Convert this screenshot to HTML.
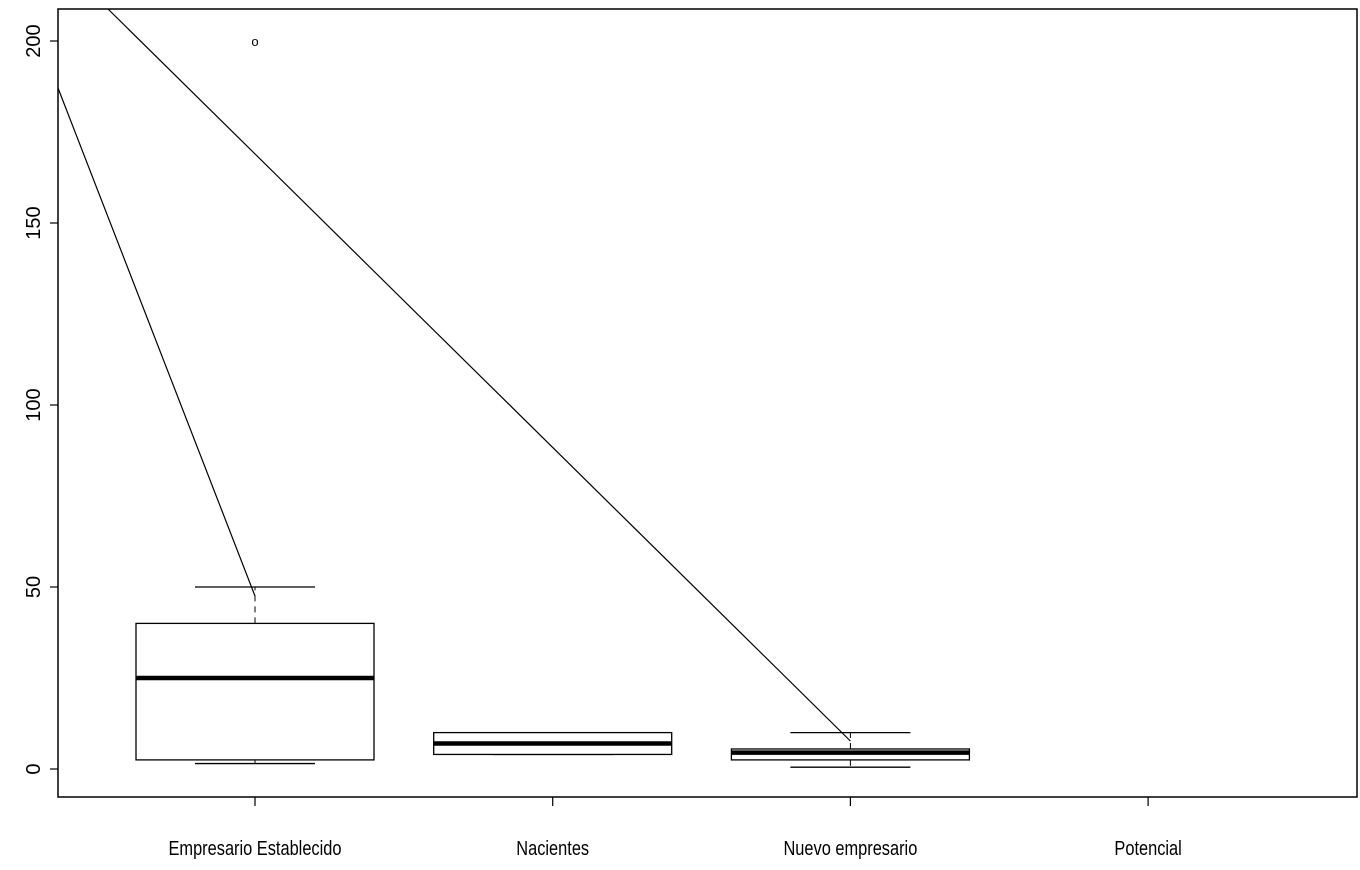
<!DOCTYPE html>
<html><head><meta charset="utf-8"><style>html,body{margin:0;padding:0;background:#fff}svg{display:block}</style></head>
<body>
<svg id="chart" width="1360" height="870" xmlns="http://www.w3.org/2000/svg" font-family="Liberation Sans, sans-serif"></svg>
<script>
const categories = ["Empresario Establecido","Nacientes","Nuevo empresario","Potencial"];
const whiskerLow = [1.5, 4, 0.5, null];
const q1 = [2.5, 4, 2.5, null];
const median = [25, 7, 4.5, null];
const q3 = [40, 10, 5.5, null];
const whiskerHigh = [50, 10, 10, null];
const outlierValues = [200];
const outlierGroups = [0];
const yTicks = [0, 50, 100, 150, 200];

const svg = document.getElementById('chart');
const NS = 'http://www.w3.org/2000/svg';
const L = 58, R = 1357, T = 9, B = 797;
const y = v => 769 - v * 3.64;
const x = i => 255 + i * 297.7;
function mk(tag, attrs) { const e = document.createElementNS(NS, tag); for (const k in attrs) e.setAttribute(k, attrs[k]); svg.appendChild(e); return e; }

const frame = mk('rect', {x: L, y: T, width: R - L, height: B - T, fill: 'none', stroke: '#000', 'stroke-width': 1.5});



yTicks.forEach(v => {
  const t = mk('line', {x1: 50, x2: L, y1: y(v), y2: y(v), stroke: '#000', 'stroke-width': 1.2});
  
  
  const lb = mk('text', {x: 0, y: 0, 'font-size': 20, 'text-anchor': 'middle', transform: `translate(40,${y(v)}) rotate(-90)`});
  lb.textContent = v;
  
  
});

categories.forEach((c, i) => {
  const cx = x(i);
  const t = mk('line', {x1: cx, x2: cx, y1: B, y2: 806, stroke: '#000', 'stroke-width': 1.2});
  
  
  const lb = mk('text', {x: 0, y: 0, 'font-size': 20, 'text-anchor': 'middle', transform: `translate(${cx},855) scale(0.82,1)`});
  lb.textContent = c;
  
  
  if (median[i] === null) return;
  const g = mk('g', {});
  
  
  const add = (tag, a) => { const e = document.createElementNS(NS, tag); for (const k in a) e.setAttribute(k, a[k]); g.appendChild(e); return e; };
  add('line', {x1: cx, x2: cx, y1: y(q3[i]), y2: y(whiskerHigh[i]), stroke: '#000', 'stroke-dasharray': '6,5'});
  add('line', {x1: cx, x2: cx, y1: y(q1[i]), y2: y(whiskerLow[i]), stroke: '#000', 'stroke-dasharray': '6,5'});
  add('line', {x1: cx - 60, x2: cx + 60, y1: y(whiskerHigh[i]), y2: y(whiskerHigh[i]), stroke: '#000', 'stroke-width': 1.3});
  add('line', {x1: cx - 60, x2: cx + 60, y1: y(whiskerLow[i]), y2: y(whiskerLow[i]), stroke: '#000', 'stroke-width': 1.3});
  add('rect', {x: cx - 119, y: y(q3[i]), width: 238, height: y(q1[i]) - y(q3[i]), fill: '#fff', stroke: '#000', 'stroke-width': 1.3});
  add('line', {x1: cx - 119, x2: cx + 119, y1: y(median[i]), y2: y(median[i]), stroke: '#000', 'stroke-width': 4.5});
});

outlierValues.forEach((v, k) => {
  const o = mk('text', {x: x(outlierGroups[k]), y: y(v) + 5, 'font-size': 13, 'text-anchor': 'middle'});
  o.textContent = 'o';
  
  
});

const l1 = mk('line', {x1: L, y1: 88, x2: x(0), y2: 596, stroke: '#000', 'stroke-width': 1.2});


const l2 = mk('line', {x1: 108, y1: T, x2: x(2), y2: 741, stroke: '#000', 'stroke-width': 1.2});


</script>
</body></html>
